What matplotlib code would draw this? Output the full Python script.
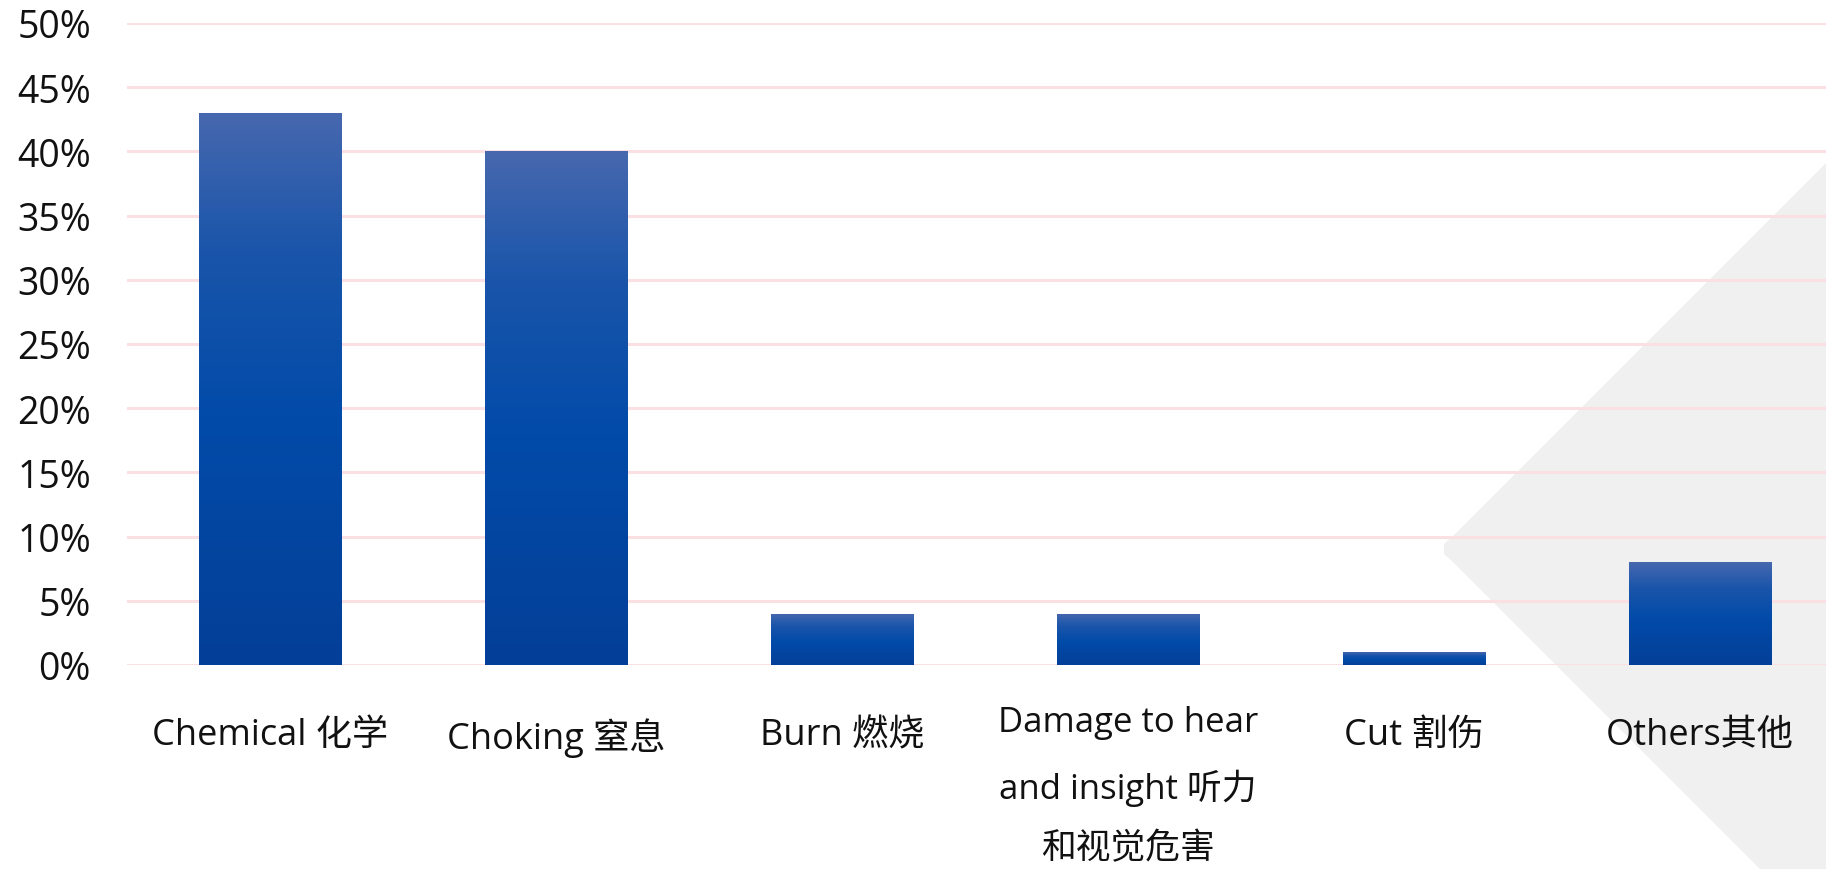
import numpy as np
import matplotlib
matplotlib.use("Agg")
import matplotlib.pyplot as plt
from matplotlib.colors import LinearSegmentedColormap
from matplotlib.patches import Polygon
import matplotlib.transforms as mtransforms

plt.rcParams['font.family'] = ['Open Sans', 'Noto Sans CJK SC', 'DejaVu Sans']

categories = ["Chemical 化学", "Choking 窒息", "Burn 燃烧",
              "Damage to hear\nand insight 听力\n和视觉危害", "Cut 割伤", "Others其他"]
values = [43, 40, 4, 4, 1, 8]
yticks = [0, 5, 10, 15, 20, 25, 30, 35, 40, 45, 50]
ytick_labels = [f"{t}%" for t in yticks]

W, H = 1826, 870
fig = plt.figure(figsize=(W / 100, H / 100), dpi=100)
fig.patch.set_facecolor("white")

# background grey diamond (decorative)
pts_px = [(1444, 545), (1452, 538), (2000, -10), (2600, 550), (2000, 1110), (1452, 562), (1444, 555)]
pts = [(x / W, 1 - y / H) for x, y in pts_px]
fig.patches.append(Polygon(pts, closed=True, transform=fig.transFigure,
                           facecolor="#f0f0f0", edgecolor="none", zorder=0))

left = 127 / W
bottom = 1 - 666 / H
top = 1 - 24 / H
ax = fig.add_axes([left, bottom, 1 - left, top - bottom])
ax.set_facecolor("none")
ax.set_zorder(1)

spacing = 286
xmax = (W - 127) / spacing - 0.5

for s in ax.spines.values():
    s.set_visible(False)

ax.set_yticks(yticks)
ax.set_yticklabels(ytick_labels, fontsize=27, color="#111111")
ax.tick_params(axis='y', length=0, pad=26)
ax.set_xticks([])
ax.yaxis.grid(True, color="#fbe0e3", linewidth=2.2)
ax.set_axisbelow(True)

cmap = LinearSegmentedColormap.from_list(
    "bluegrad", [(0.0, "#043f98"), (0.45, "#024ba9"), (0.75, "#1a55aa"), (1.0, "#4768af")])
grad = np.linspace(0, 1, 256).reshape(-1, 1)

x = np.arange(len(categories))
bars = ax.bar(x, values, width=0.5, color="none", edgecolor="none", zorder=2)
for b in bars:
    bx, by = b.get_x(), b.get_y()
    bw, bh = b.get_width(), b.get_height()
    im = ax.imshow(grad, cmap=cmap, origin="lower", aspect="auto",
                   extent=[bx, bx + bw, by, by + bh], zorder=2, interpolation="bicubic")
    im.set_clip_path(b)
ax.set_xlim(-0.5, xmax)
ax.set_ylim(0, 50)

trans = mtransforms.blended_transform_factory(ax.transData, ax.transAxes)
for i, lab in enumerate(categories):
    multi = "\n" in lab
    off = mtransforms.ScaledTranslation(0, (-40 if multi else -52) / 100, fig.dpi_scale_trans)
    ax.text(i, 0, lab, transform=trans + off, ha="center", va="top",
            fontsize=26 if not multi else 25, color="#111111",
            linespacing=2.0, multialignment="center")

fig.savefig("out.png", dpi=100)
